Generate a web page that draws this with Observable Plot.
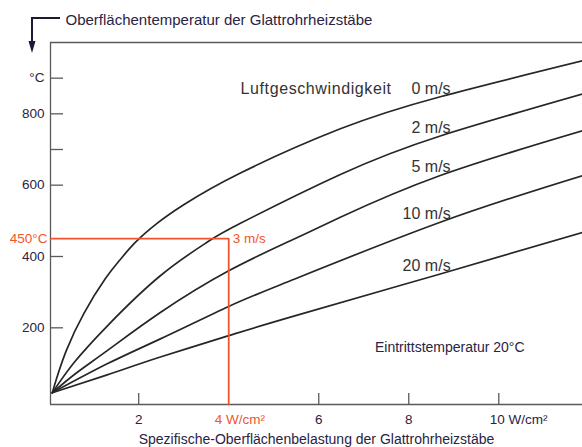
<!DOCTYPE html>
<html><head><meta charset="utf-8">
<script src="https://cdn.jsdelivr.net/npm/d3@7"></script>
<script src="https://cdn.jsdelivr.net/npm/@observablehq/plot@0.6"></script>
<style>body{margin:0;background:#fff} svg{display:block}</style>
</head><body><div id="chart"></div>
<script>
// ---- data ----
const speeds = ["0 m/s", "2 m/s", "5 m/s", "10 m/s", "20 m/s"];
const curve0 = [[0.08,18],[0.18,60],[0.40,139],[0.78,240],[1.26,338],[1.6,393],[1.93,440],[2.4,492],[3.0,545],[4.26,634],[6.48,758],[8.70,848],[11.87,949]];
const curve2 = [[0.08,18],[0.56,102],[1.30,205],[2.48,346],[3.52,440],[4.26,493],[6.48,630],[8.70,738],[11.87,856]];
const curve5 = [[0.08,18],[0.60,72],[1.30,136],[2.48,243],[4.0,360],[5.37,444],[6.48,510],[8.70,627],[11.87,753]];
const curve10 = [[0.08,18],[1.30,99],[2.48,169],[4.0,260],[5.37,332],[8.70,496],[11.87,627]];
const curve20 = [[0.08,18],[1.30,68],[2.48,118],[4.0,178],[5.37,230],[8.70,351],[11.87,468]];
const curves = [curve0, curve2, curve5, curve10, curve20];

const yTicks = [900, 800, 700, 600, 400, 200];
const yTickLabels = ["°C", "800", "", "600", "400", "200"];
const xTicks = [2, 4, 6, 8, 10];
const xTickLabels = ["2", "4 W/cm²", "6", "8", "10 W/cm²"];
const refLoad = 4, refTemp = 450, refTempLabel = "450°C", refSpeed = "3 m/s";
const title = "Oberflächentemperatur der Glattrohrheizstäbe";
const xTitle = "Spezifische-Oberflächenbelastung der Glattrohrheizstäbe";
const speedTitle = "Luftgeschwindigkeit";
const note = "Eintrittstemperatur 20°C";
const labelAt = 8.93;

// ---- derived tables ----
const xDomain = [0.04, 11.86], yDomain = [-15, 1000];
const lineData = curves.flatMap((c, i) => c.map(([x, y]) => ({speed: speeds[i], x, y})));
function interp(pts, x) {
  for (let i = 1; i < pts.length; i++) {
    if (x <= pts[i][0]) {
      const [x0, y0] = pts[i-1], [x1, y1] = pts[i];
      return y0 + (y1 - y0) * (x - x0) / (x1 - x0);
    }
  }
  return pts[pts.length-1][1];
}
const labelData = speeds.map((s, i) => ({text: s, x: labelAt, y: interp(curves[i], labelAt)}));
const yTickData = yTicks.map((v, i) => ({y: v, text: yTickLabels[i]}));
const xTickData = xTicks.map((v, i) => ({x: v, text: xTickLabels[i]}));

const RED = "#f2552c", INK = "#2a2344", GRAY = "#5a5a5a", CURVE = "#262626";
const FONT = "'Liberation Sans', Arial, Helvetica, sans-serif";

const W = 582, H = 447, ML = 50, MR = 0, MT = 42, MB = 43;
const tickLen = 13;

const chart = Plot.plot({
  width: W, height: H,
  marginLeft: ML, marginRight: MR, marginTop: MT, marginBottom: MB,
  style: {fontFamily: FONT, background: "#fff"},
  x: {domain: xDomain, axis: null},
  y: {domain: yDomain, axis: null},
  marks: [
    // frame: top, left, bottom
    Plot.ruleY([yDomain[1]], {stroke: GRAY, strokeWidth: 1.3}),
    Plot.ruleX([xDomain[0]], {stroke: GRAY, strokeWidth: 1.3}),
    Plot.ruleY([yDomain[0]], {stroke: GRAY, strokeWidth: 1.3}),
    // y ticks (inward)
    Plot.ruleY(yTickData, {y: "y", insetRight: W - ML - MR - tickLen, stroke: GRAY, strokeWidth: 1.3}),
    Plot.text(yTickData, {y: "y", text: "text", frameAnchor: "left", textAnchor: "end", dx: -6, fontSize: 13.5, fill: INK}),
    // x ticks (inward)
    Plot.ruleX(xTickData.filter(d => d.x !== refLoad), {x: "x", insetTop: H - MT - MB - 11, stroke: GRAY, strokeWidth: 1.3}),
    Plot.text(xTickData.filter(d => !d.text.includes(" ")), {x: "x", text: "text", frameAnchor: "bottom", lineAnchor: "top", dy: 10, fontSize: 13.5, fill: INK}),
    Plot.text(xTickData.filter(d => d.text.includes(" ") && d.x !== refLoad), {x: "x", text: "text", frameAnchor: "bottom", lineAnchor: "top", textAnchor: "start", dx: -9, dy: 10, fontSize: 13.5, fill: INK}),
    Plot.text(xTickData.filter(d => d.x === refLoad), {x: "x", text: "text", frameAnchor: "bottom", lineAnchor: "top", textAnchor: "start", dx: -14, dy: 10, fontSize: 13.5, fill: RED}),
    // curves
    Plot.line(lineData, {x: "x", y: "y", z: "speed", curve: "natural", stroke: CURVE, strokeWidth: 1.7}),
    // curve labels
    Plot.text(labelData, {x: "x", y: "y", text: "text", textAnchor: "end", lineAnchor: "bottom", fontSize: 16, fill: "#333"}),
    Plot.text(labelData.slice(0, 1), {x: "x", y: "y", text: () => speedTitle, textAnchor: "end", lineAnchor: "bottom", dx: -59, fontSize: 16, fill: "#333"}),
    // red reference
    Plot.line([[xDomain[0], refTemp], [refLoad, refTemp], [refLoad, yDomain[0]]], {stroke: RED, strokeWidth: 1.8}),
    Plot.text([refTemp], {y: d => d, text: () => refTempLabel, frameAnchor: "left", textAnchor: "end", dx: -3, fontSize: 13.5, fill: RED}),
    Plot.text([[refLoad, refTemp]], {x: d => d[0], y: d => d[1], text: () => refSpeed, textAnchor: "start", dx: 4, fontSize: 13.5, fill: RED}),
    // annotations
    Plot.text([note], {text: d => d, frameAnchor: "bottom-right", textAnchor: "end", lineAnchor: "bottom", dx: -58, dy: -53, fontSize: 14, fill: INK}),
    Plot.text([title], {text: d => d, frameAnchor: "top-left", textAnchor: "start", lineAnchor: "bottom", dx: 15, dy: -18, fontSize: 15, fill: INK}),
    Plot.text([xTitle], {text: d => d, frameAnchor: "bottom", textAnchor: "middle", lineAnchor: "bottom", dy: 39, fontSize: 14, fill: INK})
  ]
});

const svg = d3.select(chart);
// wider tracking for the legend heading, as in the reference
svg.selectAll("text").filter(function() { return this.textContent === speedTitle; }).attr("letter-spacing", "0.6");
// bracket arrow from the title down to the y axis
svg.append("path").attr("d", "M60,18H32V44").attr("fill", "none").attr("stroke", "#1f1733").attr("stroke-width", 2);
svg.append("path").attr("d", "M28.5,41H35.5L32,53Z").attr("fill", "#1f1733");

document.getElementById("chart").appendChild(chart);
</script>
</body></html>
